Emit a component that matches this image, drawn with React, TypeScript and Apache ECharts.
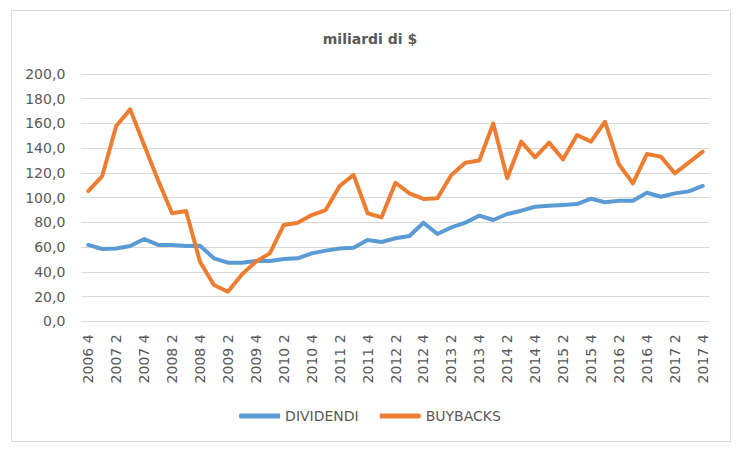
import React, { useEffect, useRef } from "react";
import * as echarts from "echarts";

const categories = [
  "2006 4",
  "2007 1", "2007 2", "2007 3", "2007 4",
  "2008 1", "2008 2", "2008 3", "2008 4",
  "2009 1", "2009 2", "2009 3", "2009 4",
  "2010 1", "2010 2", "2010 3", "2010 4",
  "2011 1", "2011 2", "2011 3", "2011 4",
  "2012 1", "2012 2", "2012 3", "2012 4",
  "2013 1", "2013 2", "2013 3", "2013 4",
  "2014 1", "2014 2", "2014 3", "2014 4",
  "2015 1", "2015 2", "2015 3", "2015 4",
  "2016 1", "2016 2", "2016 3", "2016 4",
  "2017 1", "2017 2", "2017 3", "2017 4",
];

const dividendi = [
  61.8, 58.5, 59, 61, 66.6, 61.8, 61.8, 61, 61.2, 51, 47.5, 47.5, 48.8, 48.9, 50.4,
  51, 55, 57.2, 59, 59.6, 65.8, 64.2, 67.2, 69, 79.8, 70.7, 76, 79.8, 85.5, 82,
  86.8, 89.5, 92.7, 93.5, 94.1, 94.9, 99.2, 96.3, 97.6, 97.6, 104, 100.8, 103.5, 105.1, 109.5,
];

const buybacks = [
  105.4, 117.5, 158, 171.4, 142.6, 114, 87.4, 89.2, 48.3, 29.4, 24, 38, 48.3, 55, 78,
  79.8, 86, 90, 109.5, 118.4, 87.4, 84.1, 112.1, 103.5, 99, 99.5, 118.4, 128.3, 130, 160,
  115.7, 145.3, 132.6, 144.5, 131, 150.7, 145.3, 161.4, 127, 111.6, 135.3, 133.2, 119.7, 128.3, 137.2,
];

const seriesNames = ["DIVIDENDI", "BUYBACKS"];
const title = "miliardi di $";

export default function App() {
  const ref = useRef<HTMLDivElement>(null);
  useEffect(() => {
    if (!ref.current) return;
    const chart = echarts.init(ref.current, null, { renderer: "svg" });
    const font = "DejaVu Sans";
    const textColor = "#595959";
    chart.setOption({
      animation: false,
      backgroundColor: "#ffffff",
      textStyle: { fontFamily: font },
      title: {
        text: title,
        left: "center",
        top: 27,
        textStyle: { fontFamily: font, fontSize: 14, fontWeight: "bold", color: textColor },
      },
      graphic: [
        {
          type: "rect",
          shape: { x: 11.5, y: 10.5, width: 719, height: 431 },
          style: { fill: "none", stroke: "#d9d9d9", lineWidth: 1 },
          silent: true,
        },
      ],
      legend: {
        data: seriesNames,
        left: "center",
        top: 404,
        icon: "roundRect",
        itemWidth: 41,
        itemHeight: 5,
        itemGap: 21,
        textStyle: { fontFamily: font, fontSize: 14, color: textColor },
      },
      grid: { left: 81.3, right: 30.3, top: 74, bottom: 129.6, containLabel: false },
      xAxis: {
        type: "category",
        data: categories,
        boundaryGap: true,
        axisLine: { show: true, lineStyle: { color: "#d9d9d9", width: 1 } },
        axisTick: { show: false },
        axisLabel: {
          interval: 1,
          rotate: 90,
          margin: 13,
          fontFamily: font,
          fontSize: 14,
          color: textColor,
        },
      },
      yAxis: {
        type: "value",
        min: 0,
        max: 200,
        interval: 20,
        axisLine: { show: false },
        axisTick: { show: false },
        splitLine: { lineStyle: { color: "#d9d9d9", width: 1 } },
        axisLabel: {
          margin: 16,
          fontFamily: font,
          fontSize: 14,
          color: textColor,
          formatter: (v: number) => v.toFixed(1).replace(".", ","),
        },
      },
      series: [
        {
          name: seriesNames[0],
          type: "line",
          data: dividendi,
          showSymbol: false,
          symbol: "none",
          color: "#5b9bd5",
          lineStyle: { color: "#5b9bd5", width: 4, cap: "round", join: "round" },
        },
        {
          name: seriesNames[1],
          type: "line",
          data: buybacks,
          showSymbol: false,
          symbol: "none",
          color: "#ed7d31",
          lineStyle: { color: "#ed7d31", width: 4, cap: "round", join: "round" },
        },
      ],
    });
    return () => chart.dispose();
  }, []);
  return (
    <div
      ref={ref}
      style={{ position: "fixed", left: 0, top: 0, width: 740, height: 451 }}
    />
  );
}
